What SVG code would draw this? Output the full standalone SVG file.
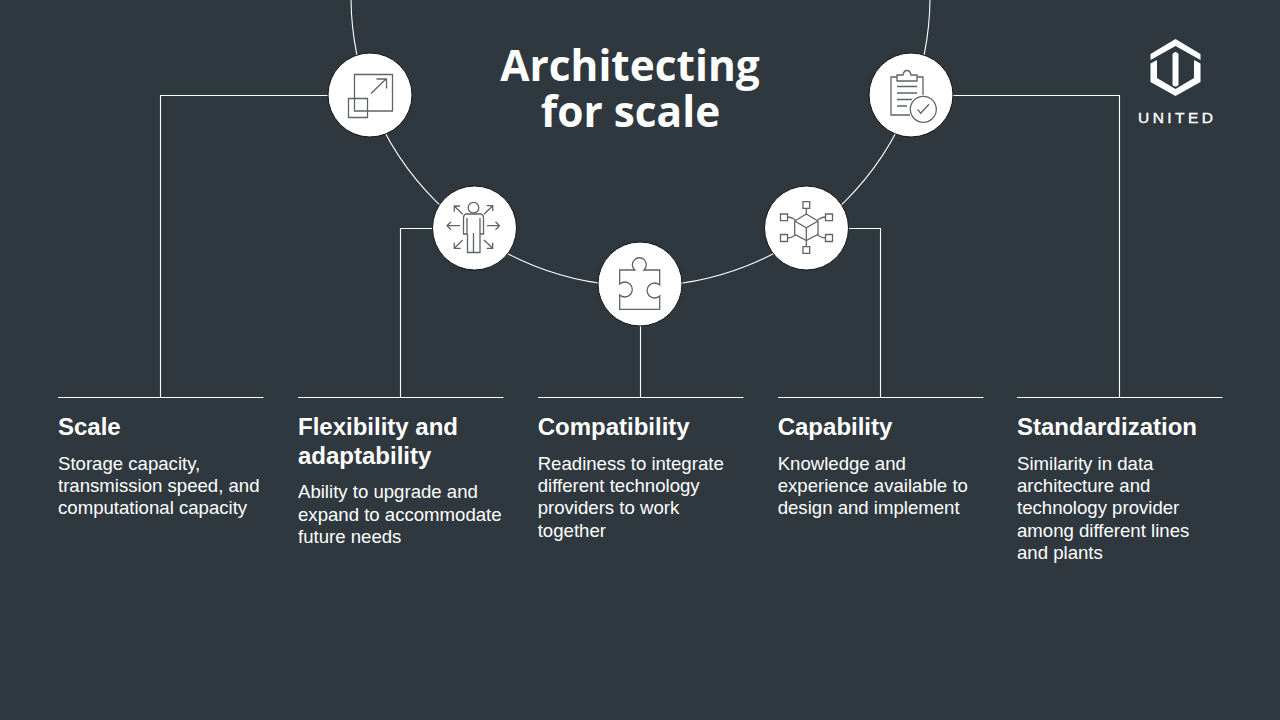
<svg xmlns="http://www.w3.org/2000/svg" width="1280" height="720" viewBox="0 0 1280 720">
<style>
.ln{fill:none;stroke:#fff;stroke-width:1.1}
.disc{fill:#fff;stroke:#14181b;stroke-width:1}
.ic{fill:none;stroke:#5f6467;stroke-width:1.3}
.h{font:bold 24px "Liberation Sans",Arial,sans-serif;fill:#fff}
.b{font:18.6px "Liberation Sans",Arial,sans-serif;fill:#fff}
.t{font:bold 42.4px "Open Sans",sans-serif;fill:#fff;text-anchor:middle}
</style>
<rect width="1280" height="720" fill="#2f383e"/>
<g id="connectors">
<path class="ln" d="M351 -3.500A289.500 289.500 0 0 0 930 -3.500"/>
<path class="ln" d="M328 95.500H160.500V397"/>
<path class="ln" d="M433 228.500H400.500V397"/>
<path class="ln" d="M640.500 325V397"/>
<path class="ln" d="M848 228.500H880.500V397"/>
<path class="ln" d="M953 95.500H1119.500V397"/>
<path class="ln" d="M58 397.500H263.500M298 397.500H503.500M538 397.500H743.500M778 397.500H983.500M1017 397.500H1222.500"/>
</g>
<g id="title"><text class="t"><tspan x="630" y="81">Architecting</tspan><tspan x="630.500" y="127">for scale</tspan></text></g>
<g id="logo">
<path fill="#fff" d="M1175.500 39L1200.500 54V60L1175.500 46L1150.500 60V54Z"/>
<path fill="#fff" d="M1150.500 63.500L1157 60V78L1175.500 89L1194 78V60L1200.500 63.500V82L1175.500 96L1150.500 82Z"/>
<path fill="#fff" d="M1172.500 54Q1175.500 50 1178.500 54V85Q1175.500 88 1172.500 85Z"/>
<text x="1175.500" y="123" text-anchor="middle" textLength="75" style="font:15.500px 'Liberation Sans',Arial,sans-serif;fill:#fff;stroke:#fff;stroke-width:.4">UNITED</text>
</g>
<g id="node-scale">
<circle class="disc" cx="370" cy="95" r="42"/>
<path class="ic" d="M354.500 74.500H392.500V111H354.500ZM348.500 98.500H367.500V117.500H348.500ZM371 93.500L386 79M376.500 79H386.500V88.500"/>
</g>
<g id="node-flex">
<circle class="disc" cx="474.500" cy="228" r="42"/>
<g class="ic">
<circle cx="473.500" cy="207.700" r="5.300"/>
<path d="M467 214H480Q483.500 214 483.500 218V234H480V218M480 234V252.500H467.500V234M467 218V234H463.500V218Q463.500 214 467 214M473.500 233V252.500"/>
<path d="M447 225.700H460M451 221.700L447 225.700L451 229.700M487 225.700H499.500M495.500 221.700L499.500 225.700L495.500 229.700"/>
<path d="M462.700 214.300L454.300 206M454.300 211.700V206H460M484 214.300L492.700 205.700M486.700 205.700H492.700V211M462.700 240L454.300 248.300M454.300 242.700V248.300H460.700M484 240L492.700 248.300M492.700 242.700V248.300H486.700"/>
</g>
</g>
<g id="node-compat">
<circle class="disc" cx="640" cy="284" r="42"/>
<path class="ic" d="M619.700 270H634.700A7 7 0 1 1 644 270H659.700V285A7.500 7.500 0 1 0 659.700 296V309.300H619.700V295A7.500 7.500 0 1 0 619.700 284Z"/>
</g>
<g id="node-cap">
<circle class="disc" cx="806.500" cy="228" r="42"/>
<g class="ic">
<path d="M806.300 214L818 221V234.300L806.300 240.500L794.700 234.300V221ZM794.700 221L806.300 227.700L818 221M806.300 227.700V240.500"/>
<path d="M803 201.700H809.700V208.300H803ZM803 246.700H809.700V253.300H803ZM780.500 214H787.500V220.700H780.500ZM825.500 214H832.500V220.700H825.500ZM780.500 234.500H787.500V241.500H780.500ZM825.500 234.500H832.500V241.500H825.500Z"/>
<path d="M806.300 208.300V214M806.300 240.500V246.700M787.500 217C792 217 792 218 795.500 220M825.500 217C821 217 821 218 817.500 220M787.500 238C792 238 792 237 795.500 235M825.500 238C821 238 821 237 817.500 235"/>
</g>
</g>
<g id="node-std">
<circle class="disc" cx="911" cy="95" r="42"/>
<g class="ic">
<path d="M897 77H891V115H910M917 77H923V95"/>
<path d="M897 81V75H903C904 69 910 69 911 75H917V81Z"/>
<path d="M897 86.500H917M897 93H917M897 99.500H912M897 106H907"/>
<circle cx="923.300" cy="109.300" r="13"/>
<path d="M917.700 109.300L920.700 113.300L929 104.300"/>
</g>
</g>
<g id="col1"><text class="h" x="58" y="435">Scale</text><text class="b"><tspan x="58" y="470">Storage capacity,</tspan><tspan x="58" y="492">transmission speed, and</tspan><tspan x="58" y="514">computational capacity</tspan></text></g>
<g id="col2"><text class="h"><tspan x="298" y="435">Flexibility and</tspan><tspan x="298" y="464">adaptability</tspan></text><text class="b"><tspan x="298" y="498">Ability to upgrade and</tspan><tspan x="298" y="521">expand to accommodate</tspan><tspan x="298" y="543">future needs</tspan></text></g>
<g id="col3"><text class="h" x="537.700" y="435">Compatibility</text><text class="b"><tspan x="537.700" y="470">Readiness to integrate</tspan><tspan x="537.700" y="492">different technology</tspan><tspan x="537.700" y="514">providers to work</tspan><tspan x="537.700" y="537">together</tspan></text></g>
<g id="col4"><text class="h" x="777.700" y="435">Capability</text><text class="b"><tspan x="777.700" y="470">Knowledge and</tspan><tspan x="777.700" y="492">experience available to</tspan><tspan x="777.700" y="514">design and implement</tspan></text></g>
<g id="col5"><text class="h" x="1017" y="435">Standardization</text><text class="b"><tspan x="1017" y="470">Similarity in data</tspan><tspan x="1017" y="492">architecture and</tspan><tspan x="1017" y="514">technology provider</tspan><tspan x="1017" y="537">among different lines</tspan><tspan x="1017" y="559">and plants</tspan></text></g>
</svg>
